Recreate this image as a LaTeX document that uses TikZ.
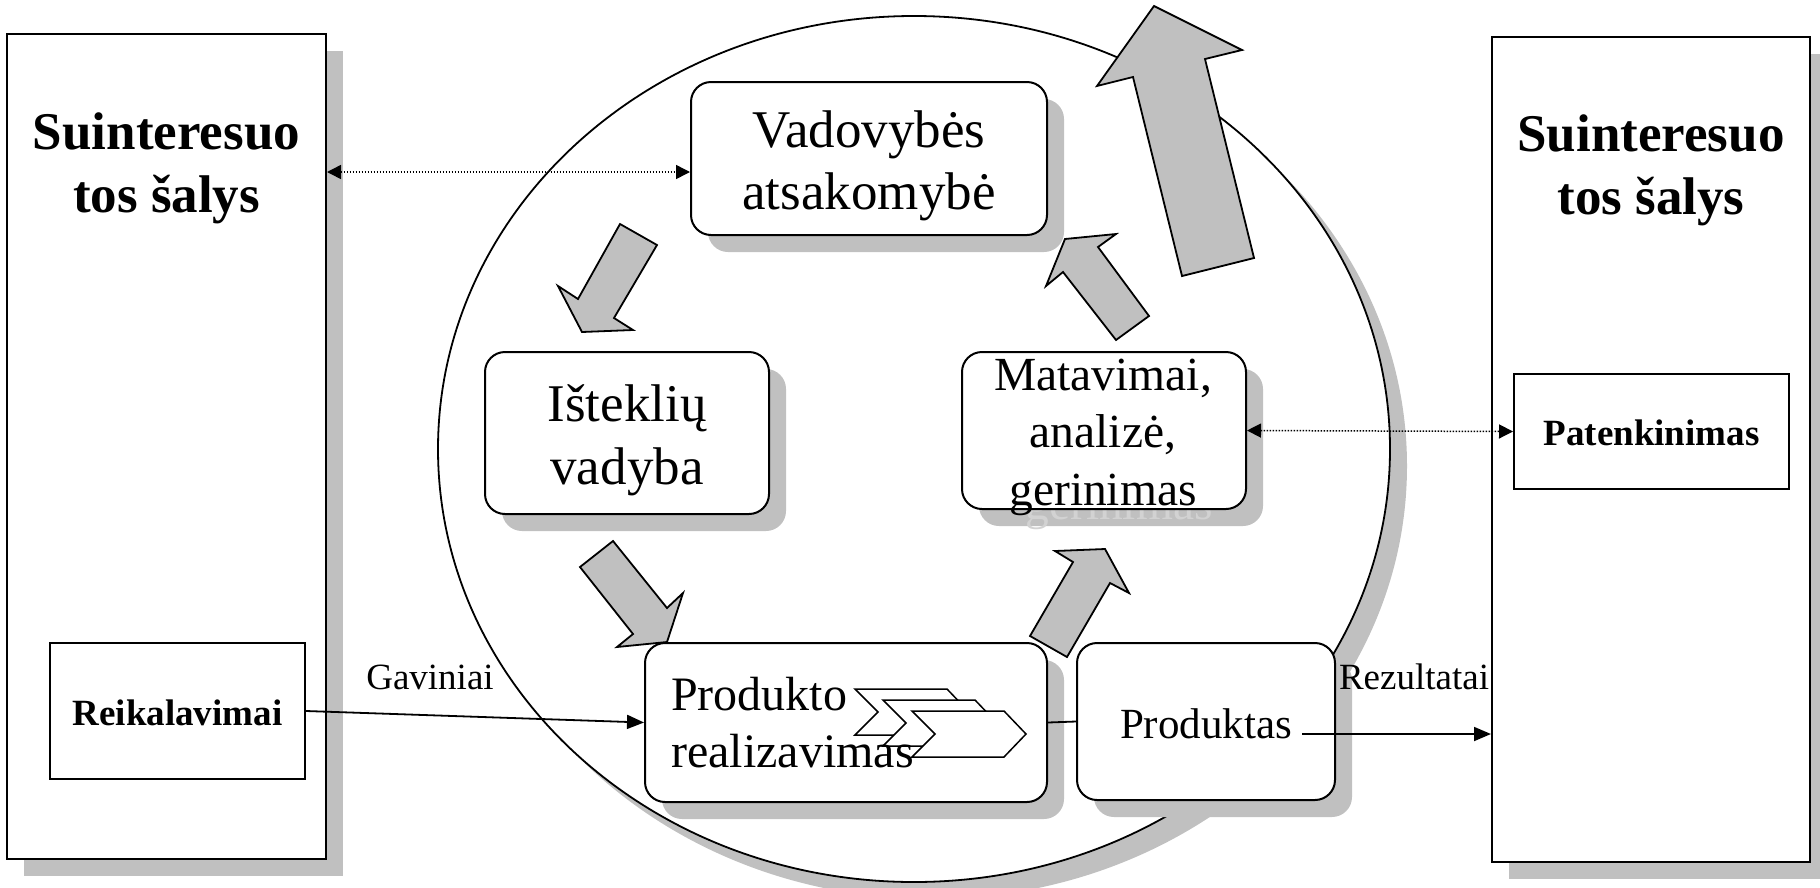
\documentclass[tikz,border=0pt]{standalone}
\usepackage{fontspec}
\setmainfont{Liberation Serif}
\usetikzlibrary{arrows.meta,shadows}
\definecolor{shc}{HTML}{C0C0C0}
\definecolor{ghc}{HTML}{D2D2D2}
\begin{document}
\begin{tikzpicture}[x=1pt,y=-1pt,
  myshadow/.style={drop shadow={shadow xshift=17pt,shadow yshift=-17pt,opacity=1,fill=shc}},
  bigbox/.style={draw,line width=2pt,fill=white,rectangle,inner sep=0pt,myshadow},
  sbox/.style={draw,line width=2pt,fill=white,rectangle,inner sep=0pt},
  rbox/.style={draw,line width=2pt,fill=white,rectangle,rounded corners=20pt,inner sep=0pt,myshadow},
  rboxns/.style={draw,line width=2pt,fill=white,rectangle,rounded corners=20pt,inner sep=0pt},
  rshadow/.style={draw=none,fill=shc,rectangle,rounded corners=20pt,inner sep=0pt},
  titletext/.style={inner sep=0pt,font=\fontsize{53}{62}\selectfont\bfseries},
  bigtext/.style={inner sep=0pt,font=\fontsize{53}{62}\selectfont},
  medtext/.style={inner sep=0pt,font=\fontsize{47.5}{57}\selectfont},
  prodtext/.style={inner sep=0pt,font=\fontsize{48}{58}\selectfont},
  pdttext/.style={inner sep=0pt,font=\fontsize{43}{50}\selectfont},
  smallbold/.style={inner sep=0pt,font=\fontsize{37}{44}\selectfont\bfseries},
  lbl/.style={inner sep=0pt,font=\fontsize{37}{44}\selectfont},
  barrow/.style={draw,line width=1.8pt,fill=shc,line join=miter},
  chev/.style={draw,line width=1.5pt,fill=white,line join=miter},
  conn/.style={draw,line width=1.8pt},
  tip/.style={-{Triangle[length=17pt,width=14pt]}},
  dots/.style={line width=1.5pt,dash pattern=on 1.5pt off 1.5pt,{Triangle[length=14pt,width=14pt]}-{Triangle[length=14pt,width=14pt]}}
]
\useasboundingbox (0,0) rectangle (1820,887);

% outer stakeholder boxes
\node[bigbox,minimum width=319pt,minimum height=825pt] (lbig) at (166.5,446.5) {};
\node[bigbox,minimum width=318pt,minimum height=825pt] (rbig) at (1651,449.5) {};
\node[titletext,anchor=base] (lt1) at (166.5,149) {Suinteresuo};
\node[titletext,anchor=base] (lt2) at (166.5,212) {tos šalys};
\node[titletext,anchor=base] (rt1) at (1651,151) {Suinteresuo};
\node[titletext,anchor=base] (rt2) at (1651,214) {tos šalys};
\node[sbox,minimum width=255pt,minimum height=136pt] (reik) at (177.5,711) {};
\node[smallbold,anchor=base] (reikT) at (177.5,725) {Reikalavimai};
\node[sbox,minimum width=275pt,minimum height=115pt] (pat) at (1651.5,431.5) {};
\node[smallbold,anchor=base] (patT) at (1651.5,445) {Patenkinimas};

% big ellipse
\fill[shc] (931,466) ellipse [x radius=476pt,y radius=433pt];
\draw[line width=1.8pt,fill=white] (914,449) ellipse [x radius=476pt,y radius=433pt];

% process boxes
\node[rbox,minimum width=356pt,minimum height=153pt] (vad) at (869,158.5) {};
\node[bigtext,anchor=base] (vad1) at (869,147) {Vadovybės};
\node[bigtext,anchor=base] (vad2) at (869,209) {atsakomybė};

\node[rbox,minimum width=284pt,minimum height=162pt] (ist) at (627,433) {};
\node[bigtext,anchor=base] (ist1) at (627,421) {Išteklių};
\node[bigtext,anchor=base] (ist2) at (627,484) {vadyba};

\node[rshadow,minimum width=284pt,minimum height=157pt] (matS) at (1121,447.5) {};
\node[medtext,anchor=base,text=ghc] (matG) at (1119,519) {gerinimas};
\node[rboxns,minimum width=284pt,minimum height=157pt] (mat) at (1104,430.5) {};
\node[medtext,anchor=base] (mat1) at (1103,390) {Matavimai,};
\node[medtext,anchor=base] (mat2) at (1103,447) {analizė,};
\node[medtext,anchor=base] (mat3) at (1103,505) {gerinimas};

\node[rbox,minimum width=402pt,minimum height=159pt] (prod) at (846,722.5) {};
\node[rbox,minimum width=258pt,minimum height=157pt] (pdt) at (1206,721.5) {};
\foreach \cx/\cy in {855/689,883/700,912/711}{
  \draw[chev] (\cx,\cy) -- ++(92,0) -- ++(22,23) -- ++(-22,23) -- ++(-92,0) -- ++(23,-23) -- cycle;
}
\node[prodtext,anchor=base west] (prod1) at (671,710) {Produkto};
\node[prodtext,anchor=base west] (prod2) at (671,767) {realizavimas};
\node[pdttext,anchor=base] (pdtT) at (1206,738) {Produktas};

% block arrows
\draw[barrow] (620,224) -- (657,245) -- (614,318) -- (633,330) -- (582,332) -- (558,286) -- (578,299) -- cycle;
\draw[barrow] (613,541) -- (667,608) -- (683,593) -- (667,642) -- (617,647) -- (633,634) -- (580,567) -- cycle;
\draw[barrow] (1030,636) -- (1073,562) -- (1055,551) -- (1105,549) -- (1129,593) -- (1110,583) -- (1067,657) -- cycle;
\draw[barrow] (1149,316) -- (1116,340) -- (1063,272) -- (1046,286) -- (1065,239) -- (1116,234) -- (1098,247) -- cycle;
\draw[barrow] (1154,6) -- (1242,50) -- (1205,59) -- (1254,258) -- (1182,276) -- (1133,77) -- (1097,86) -- cycle;

% connectors
\draw[conn,tip] (reik.east) -- (prod.west);
\draw[conn] (prod.east) -- (pdt.west);
\coordinate (rzs) at (1302,734);
\draw[conn,tip] (rzs) -- (rzs -| rbig.west);
\coordinate (d1) at (500,172);
\draw[dots] (d1 -| lbig.east) -- (d1 -| vad.west);
\draw[dots] (mat.east) -- (pat.west);
\node[lbl,anchor=base] (gav) at (430,689) {Gaviniai};
\node[lbl,anchor=base] (rez) at (1414,689) {Rezultatai};
\end{tikzpicture}
\end{document}
